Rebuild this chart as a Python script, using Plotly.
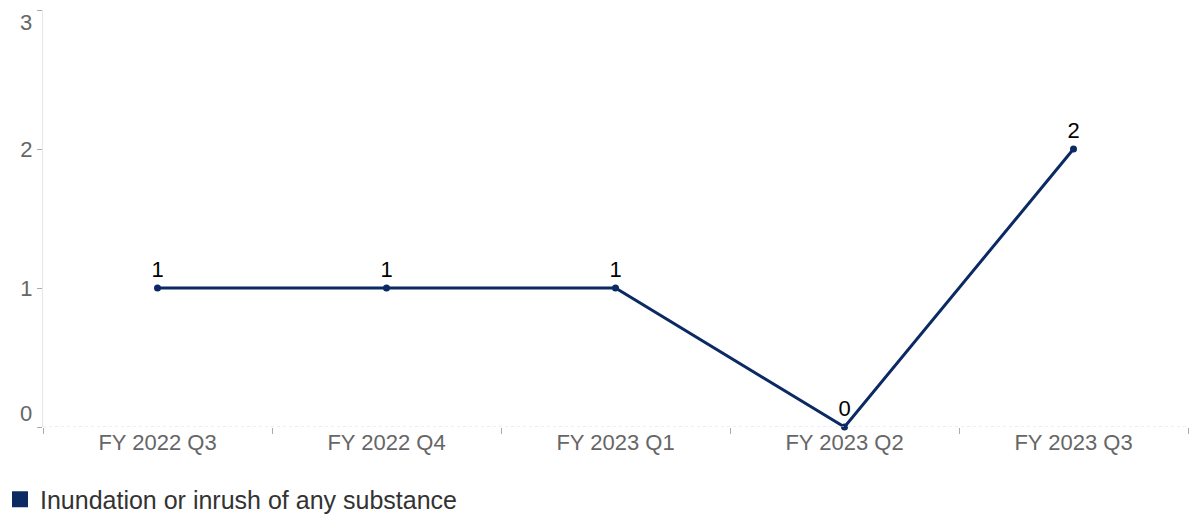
import plotly.graph_objects as go

categories = ["FY 2022 Q3", "FY 2022 Q4", "FY 2023 Q1", "FY 2023 Q2", "FY 2023 Q3"]
values = [1, 1, 1, 0, 2]
series_name = "Inundation or inrush of any substance"
y_ticks = [0, 1, 2, 3]

NAVY = "#0b2a63"
FONT = "Liberation Sans, Arial, sans-serif"

fig = go.Figure()
fig.add_trace(go.Scatter(
    x=categories, y=values, mode="lines+markers+text",
    text=[str(v) for v in values], textposition="top center",
    textfont=dict(size=22, color="#000000", family=FONT),
    line=dict(color=NAVY, width=3), marker=dict(color=NAVY, size=7),
    showlegend=False, cliponaxis=False, hoverinfo="x+y",
))
fig.add_trace(go.Scatter(
    x=[None], y=[None], mode="markers", name=series_name,
    marker=dict(color=NAVY, size=18, symbol="square"), showlegend=True,
))

fig.update_xaxes(
    type="category", range=[-0.5, len(categories) - 0.5],
    tickson="boundaries", ticks="outside", ticklen=6,
    tickcolor="#aaaaaa", showgrid=False, showline=False, zeroline=False,
    tickfont=dict(size=22, color="#666666", family=FONT),
)
fig.update_yaxes(
    range=[0, 3], tickvals=y_ticks, ticktext=["", "1", "2", ""],
    ticks="outside", ticklen=5, tickcolor="#aaaaaa", showgrid=False,
    zeroline=False, showline=True, linecolor="#e6e6e6", linewidth=1,
    tickfont=dict(size=22, color="#666666", family=FONT),
)
fig.add_shape(type="line", xref="paper", yref="y", x0=0, x1=1, y0=0, y1=0,
              line=dict(color="#dddddd", width=1, dash="dot"))
for v, shift in ((0, 14), (3, -12)):
    fig.add_annotation(x=0, xref="paper", y=v, yref="y", text=str(v),
                       showarrow=False, xanchor="right", xshift=-9, yshift=shift,
                       font=dict(size=22, color="#666666", family=FONT))

fig.update_layout(
    width=1192, height=515,
    margin=dict(l=43, r=4, t=10, b=88),
    paper_bgcolor="white", plot_bgcolor="white",
    font=dict(family=FONT),
    legend=dict(orientation="h", xref="container", yref="container",
                x=0.0, y=0.03, xanchor="left", yanchor="middle",
                font=dict(size=25, color="#333333", family=FONT),
                itemsizing="trace", bgcolor="rgba(0,0,0,0)"),
)

fig.write_html("out.html")
